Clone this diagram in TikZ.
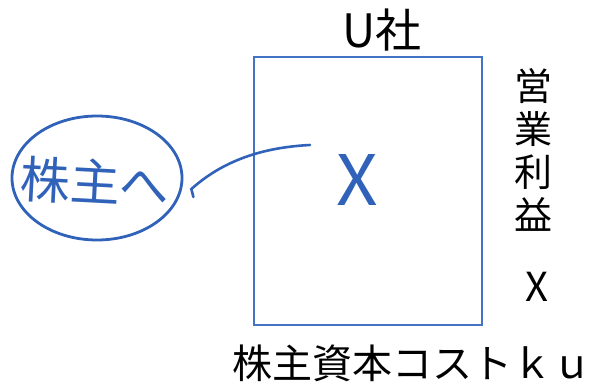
\documentclass[tikz,border=0pt]{standalone}
\usepackage{fontspec}
\setmainfont{Noto Sans CJK JP}
\newfontfamily\jp{Noto Sans CJK JP}
\usetikzlibrary{shapes.geometric, positioning}
\definecolor{boxblue}{HTML}{4472C4}
\definecolor{penblue}{HTML}{2F62B8}
\tikzstyle{company} = [rectangle, draw=boxblue, line width=2.5pt, minimum width=228pt, minimum height=268pt, inner sep=0pt]
\tikzstyle{caption} = [font=\jp\fontsize{38}{42}\selectfont, text=black, inner sep=0pt]
\tikzstyle{memo} = [ellipse, draw=penblue, line width=2.8pt, minimum width=170pt, minimum height=124pt, inner sep=0pt]
\tikzstyle{pen} = [draw=penblue, line width=2.6pt, line cap=round]

\begin{document}
\begin{tikzpicture}[x=1pt, y=-1pt]
        \useasboundingbox (0,0) rectangle (608,390);
        \node[company] (box) at (368,191) {};
        \node[caption, font=\jp\fontsize{46}{50}\selectfont, above=4pt of box, xshift=14pt] (utitle) {U社};
        \node[caption, align=center, font=\jp\fontsize{38}{43}\selectfont] (profit) at (533,150) {営\\業\\利\\益};
        \node[caption, font=\jp\fontsize{40}{44}\selectfont] (profitx) at (537,287) {X};
        \node[caption, font=\jp\fontsize{40}{44}\selectfont] (cost) at (412,363) {株主資本コストｋｕ};
        \node[font=\jp\fontsize{58}{62}\selectfont, text=penblue, inner sep=0pt, xscale=1.25, yscale=1.2] (valx) at (357,180) {X};
        \node[memo] (note) at (97,178) {};
        \node[font=\jp\fontsize{50}{54}\selectfont, text=penblue, inner sep=0pt, rotate=-3] (notetext) at (95,182) {株主へ};
        \coordinate (tip) at (310,145);
        \draw[pen] ([xshift=10pt, yshift=-19pt]note.east) -- ++(-2,-8)
            .. controls (215,168) and (250,148) .. (tip);
    \end{tikzpicture}
\end{document}
